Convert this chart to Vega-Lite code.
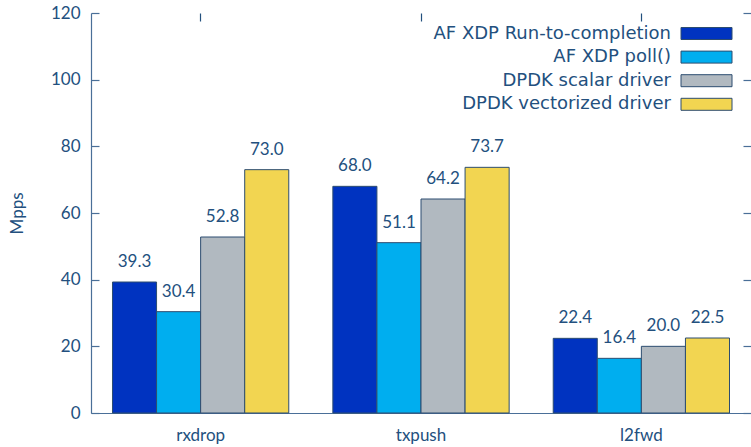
{
  "$schema": "https://vega.github.io/schema/vega-lite/v6.json",
  "width": 660,
  "height": 400,
  "autosize": {"type": "none"},
  "padding": {"left": 91, "top": 13, "right": 0, "bottom": 34},
  "background": "white",
  "config": {
    "view": {"stroke": null},
    "font": "Lato",
    "axis": {"labelColor": "#23507e", "titleColor": "#23507e", "domainColor": "#4a6f98", "tickColor": "#4a6f98", "grid": false, "labelFont": "Lato", "titleFont": "Lato"}
  },
  "data": {
    "values": [
      {"benchmark": "rxdrop", "series": "AF XDP Run-to-completion", "value": 39.3},
      {"benchmark": "rxdrop", "series": "AF XDP poll()", "value": 30.4},
      {"benchmark": "rxdrop", "series": "DPDK scalar driver", "value": 52.8},
      {"benchmark": "rxdrop", "series": "DPDK vectorized driver", "value": 73.0},
      {"benchmark": "txpush", "series": "AF XDP Run-to-completion", "value": 68.0},
      {"benchmark": "txpush", "series": "AF XDP poll()", "value": 51.1},
      {"benchmark": "txpush", "series": "DPDK scalar driver", "value": 64.2},
      {"benchmark": "txpush", "series": "DPDK vectorized driver", "value": 73.7},
      {"benchmark": "l2fwd", "series": "AF XDP Run-to-completion", "value": 22.4},
      {"benchmark": "l2fwd", "series": "AF XDP poll()", "value": 16.4},
      {"benchmark": "l2fwd", "series": "DPDK scalar driver", "value": 20.0},
      {"benchmark": "l2fwd", "series": "DPDK vectorized driver", "value": 22.5}
    ]
  },
  "encoding": {
    "x": {
      "field": "benchmark", "type": "nominal", "sort": ["rxdrop", "txpush", "l2fwd"],
      "scale": {"paddingInner": 0.2, "paddingOuter": 0.0975}
    },
    "xOffset": {
      "field": "series", "type": "nominal",
      "sort": ["AF XDP Run-to-completion", "AF XDP poll()", "DPDK scalar driver", "DPDK vectorized driver"],
      "scale": {"paddingInner": 0, "paddingOuter": 0}
    },
    "y": {"field": "value", "type": "quantitative", "scale": {"domain": [0, 120], "nice": false}}
  },
  "layer": [
    {
      "mark": {"type": "bar", "stroke": "#2d4d70", "strokeWidth": 1},
      "encoding": {
        "x": {
          "field": "benchmark", "type": "nominal", "sort": ["rxdrop", "txpush", "l2fwd"],
          "scale": {"paddingInner": 0.2, "paddingOuter": 0.0975},
          "axis": {"title": null, "orient": "bottom", "ticks": false, "labelAngle": 0, "labelFontSize": 17, "labelPadding": 14, "domainWidth": 1.2}
        },
        "y": {
          "field": "value", "type": "quantitative", "scale": {"domain": [0, 120], "nice": false},
          "axis": {"title": "Mpps", "orient": "left", "values": [0, 20, 40, 60, 80, 100, 120], "tickSize": -8, "labelPadding": 19, "labelFontSize": 17, "titleFontSize": 17, "titleFontWeight": "normal", "titlePadding": 24, "domainWidth": 1.2, "tickWidth": 1.2}
        },
        "color": {
          "field": "series", "type": "nominal",
          "sort": ["AF XDP Run-to-completion", "AF XDP poll()", "DPDK scalar driver", "DPDK vectorized driver"],
          "scale": {"domain": ["AF XDP Run-to-completion", "AF XDP poll()", "DPDK scalar driver", "DPDK vectorized driver"], "range": ["#0033c0", "#00aeef", "#b1b9c0", "#f2d551"]},
          "legend": {
            "title": null, "orient": "none", "legendX": 605, "legendY": 10, "padding": 0,
            "symbolType": "M-2.55,-0.6H2.55V0.6H-2.55Z", "symbolSize": 400,
            "symbolStrokeColor": "#2d4d70", "symbolStrokeWidth": 1,
            "labelAlign": "right", "labelOffset": -46, "labelFontSize": 18, "labelColor": "#23507e", "labelFont": "DejaVu Sans",
            "rowPadding": 3.6, "labelLimit": 400
          }
        }
      }
    },
    {
      "mark": {"type": "text", "dy": -20, "fontSize": 17, "color": "#23507e", "font": "Lato"},
      "encoding": {
        "x": {
          "field": "benchmark", "type": "nominal", "sort": ["rxdrop", "txpush", "l2fwd"],
          "scale": {"paddingInner": 0.2, "paddingOuter": 0.0975},
          "axis": {"title": null, "orient": "top", "domain": false, "labels": false, "tickSize": -8, "tickWidth": 1.2, "tickColor": "#23507e"}
        },
        "y": {
          "field": "value", "type": "quantitative", "scale": {"domain": [0, 120], "nice": false},
          "axis": {"title": null, "orient": "right", "domain": false, "labels": false, "values": [0, 20, 40, 60, 80, 100, 120], "tickSize": -8, "tickWidth": 1.2}
        },
        "text": {"field": "value", "type": "quantitative", "format": ".1f"}
      }
    }
  ],
  "resolve": {"axis": {"x": "independent", "y": "independent"}}
}
